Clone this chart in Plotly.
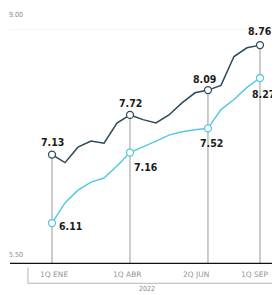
import plotly.graph_objects as go

# Biweekly periods (index), 1Q ENE 2022 .. 1Q SEP 2022
periods = list(range(17))
general = [7.13, 7.01, 7.24, 7.33, 7.30, 7.60, 7.72, 7.65, 7.60, 7.72, 7.90, 8.05, 8.09, 8.16, 8.59, 8.72, 8.76]
core = [6.11, 6.41, 6.60, 6.72, 6.78, 6.96, 7.16, 7.24, 7.33, 7.42, 7.47, 7.50, 7.52, 7.80, 7.95, 8.13, 8.27]
tick_idx = [0, 6, 12, 16]
tick_text = ["1Q ENE", "1Q ABR", "2Q JUN", "1Q SEP"]
year_label = "2022"
y_min, y_max = 5.50, 9.00

dark = "#2b4a5c"
light = "#55c9e2"
font_lbl = "Liberation Sans Narrow, DejaVu Sans Condensed, Arial Narrow, sans-serif"
font_small = "DejaVu Sans Condensed, sans-serif"

fig = go.Figure()
for i in tick_idx:
    fig.add_shape(type="line", xref="x", yref="y", x0=periods[i], x1=periods[i],
                  y0=y_min, y1=general[i], line=dict(color="#9a9a9a", width=1), layer="below")

fig.add_trace(go.Scatter(x=periods, y=general, mode="lines", line=dict(color=dark, width=1.5),
                         hoverinfo="skip", showlegend=False))
fig.add_trace(go.Scatter(x=periods, y=core, mode="lines", line=dict(color=light, width=1.5),
                         hoverinfo="skip", showlegend=False))
fig.add_trace(go.Scatter(x=[periods[i] for i in tick_idx], y=[general[i] for i in tick_idx],
                         mode="markers", marker=dict(symbol="circle", size=7, color="white",
                                                     line=dict(color=dark, width=1.3)),
                         cliponaxis=False, showlegend=False))
fig.add_trace(go.Scatter(x=[periods[i] for i in tick_idx], y=[core[i] for i in tick_idx],
                         mode="markers", marker=dict(symbol="circle", size=7, color="white",
                                                     line=dict(color=light, width=1.3)),
                         cliponaxis=False, showlegend=False))

# value labels (offsets in px)
g_off = [(1, 13), (1, 12), (-3, 11), (0, 14)]
c_off = [(19, -3), (16, -14), (4, -15), (4, -16)]
for k, i in enumerate(tick_idx):
    fig.add_annotation(x=periods[i], y=general[i], text="<b>%.2f</b>" % general[i], showarrow=False,
                       xshift=g_off[k][0], yshift=g_off[k][1],
                       font=dict(family=font_lbl, size=10.5, color="#1c1c1c"))
    fig.add_annotation(x=periods[i], y=core[i], text="<b>%.2f</b>" % core[i], showarrow=False,
                       xshift=c_off[k][0], yshift=c_off[k][1],
                       font=dict(family=font_lbl, size=10.5, color="#1c1c1c"))

# x tick labels
t_shift = [2, -2, -12, -5]
for k, i in enumerate(tick_idx):
    fig.add_annotation(x=periods[i], yref="paper", y=0, text=tick_text[k], showarrow=False,
                       yanchor="top", yshift=-4, xshift=t_shift[k],
                       font=dict(family="DejaVu Sans, sans-serif", size=7.5, color="#959595"))

# y labels
for v, sh in [(y_max, 14), (y_min, 9)]:
    fig.add_annotation(xref="paper", x=0.022, y=v, text="%.2f" % v, showarrow=False,
                       xanchor="center", yshift=sh,
                       font=dict(family=font_small, size=7, color="#8a8a8a"))

# top gridline & bottom axis
fig.add_shape(type="line", xref="paper", yref="y", x0=0, x1=1, y0=y_max, y1=y_max,
              line=dict(color="#ececec", width=1), layer="below")
fig.add_shape(type="line", xref="paper", yref="y", x0=0, x1=1, y0=y_min, y1=y_min,
              line=dict(color="#111111", width=2.5))

# bracket for year
fig.add_shape(type="line", xref="x", yref="paper", x0=-1.85, x1=-1.85, y0=-0.015, y1=-0.082,
              line=dict(color="#b5b5b5", width=1))
fig.add_shape(type="line", xref="x", yref="paper", x0=-1.85, x1=17.6, y0=-0.082, y1=-0.082,
              line=dict(color="#b5b5b5", width=1))
fig.add_annotation(x=7.3, yref="paper", y=-0.082, text=year_label, showarrow=False, yanchor="top",
                   yshift=0, font=dict(family=font_small, size=7, color="#8a8a8a"))

# page body has an 8px margin, so the figure is sized 8px smaller than the window
fig.update_layout(
    width=272, height=287,
    margin=dict(l=2, r=0, t=21, b=31),
    paper_bgcolor="white", plot_bgcolor="white",
    xaxis=dict(range=[-3.23, 17.54], showticklabels=False,
               showgrid=False, zeroline=False, showline=False, ticks=""),
    yaxis=dict(range=[y_min, y_max], showgrid=False, zeroline=False, showticklabels=False),
    showlegend=False,
)

fig.write_html("out.html")
